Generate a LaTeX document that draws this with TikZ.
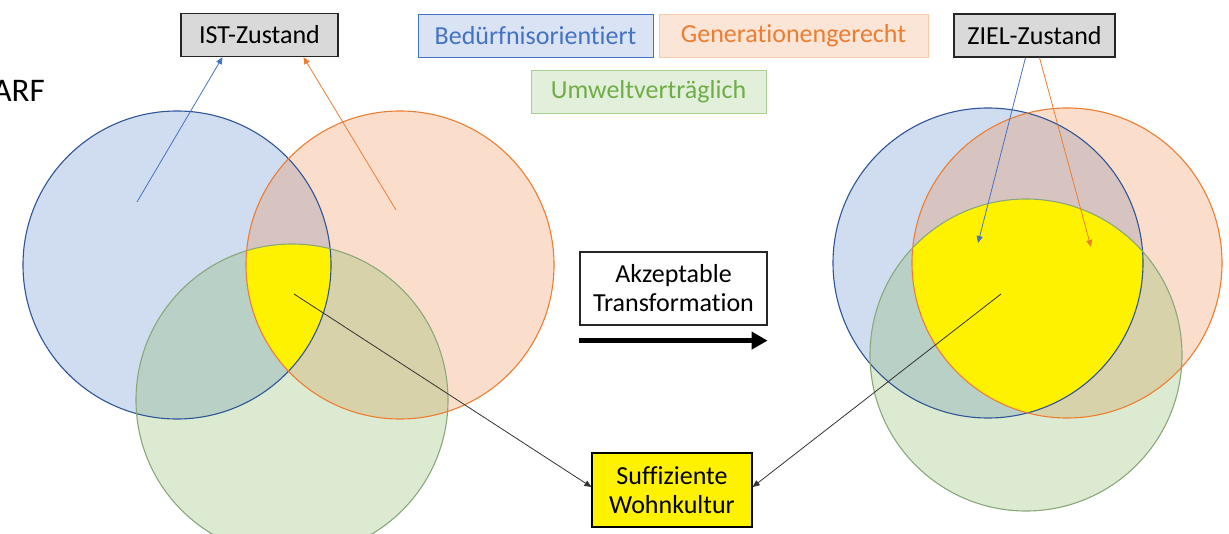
\documentclass[tikz,border=0pt]{standalone}
\usepackage{fontspec}
\setmainfont{Carlito}[Ligatures=NoCommon]
\usetikzlibrary{arrows.meta}
\definecolor{accblue}{HTML}{4472C4}
\definecolor{accorange}{HTML}{ED7D31}
\definecolor{accgreen}{HTML}{70AD47}
\definecolor{blueline}{HTML}{2F5597}
\definecolor{greenline}{HTML}{8BA87A}
\definecolor{boxgray}{HTML}{D9D9D9}
\definecolor{boxline}{HTML}{262626}
\begin{document}
\begin{tikzpicture}[x=1pt,y=-1pt,
    every node/.style={font=\fontsize{26}{29}\selectfont},
    zbox/.style={draw=boxline, fill=boxgray, line width=1.3pt, minimum height=43pt, inner sep=0pt},
    critbox/.style={line width=0.9pt, minimum height=43pt, inner sep=0pt},
    ptr/.style={-{Triangle[length=7pt,width=6pt]}, line width=0.8pt}]
  \useasboundingbox (0,0) rectangle (1229,534);
  \coordinate (bl) at (177,265);
  \coordinate (ol) at (400,265);
  \coordinate (gl) at (292,400);
  \coordinate (br) at (988,263);
  \coordinate (or) at (1067,263);
  \coordinate (gr) at (1026,355);
  \draw
    (45,102) node[anchor=base east, inner sep=0pt, font=\fontsize{33}{40}\selectfont] (arf){ARF}
    (259.5,35) node[zbox, minimum width=157pt] (ist){IST-Zustand}
    (1034.5,35.5) node[zbox, minimum width=161pt] (ziel){ZIEL-Zustand}
    (535.5,35.5) node[critbox, draw=accblue, fill=accblue!20, text=accblue, minimum width=235pt] (beduerf){Bedürfnisorientiert}
    (793.5,35.5) node[critbox, draw=accorange!40, fill=accorange!20, text=accorange, minimum width=269pt] (generat){Generationengerecht}
    (648.5,91.5) node[critbox, draw=accgreen!60, fill=accgreen!20, text=accgreen, minimum width=235pt] (umwelt){Umweltverträglich}
    (673.5,288.5) node[draw=boxline, line width=1.2pt, fill=white, minimum width=187pt, minimum height=73pt, align=center, inner sep=0pt] (akz){Akzeptable\\Transformation}
    (672,490) node[draw=black, line width=1.2pt, fill=yellow, minimum width=160pt, minimum height=74pt, align=center, inner sep=0pt] (suff){Suffiziente\\Wohnkultur};
  \begin{scope}[fill opacity=.25]
    \fill[accblue] (bl) circle[radius=154];
    \fill[accorange] (ol) circle[radius=154];
    \fill[accgreen] (gl) circle[radius=156];
    \fill[accblue] (br) circle[radius=155];
    \fill[accorange] (or) circle[radius=155];
    \fill[accgreen] (gr) circle[radius=156];
  \end{scope}
  \begin{scope}
    \clip (bl) circle[radius=154];
    \clip (ol) circle[radius=154];
    \fill[yellow] (gl) circle[radius=156];
  \end{scope}
  \begin{scope}
    \clip (br) circle[radius=155];
    \clip (or) circle[radius=155];
    \fill[yellow] (gr) circle[radius=156];
  \end{scope}
  \begin{scope}[line width=1.1pt]
    \draw[blueline] (bl) circle[radius=154];
    \draw[accorange] (ol) circle[radius=154];
    \draw[greenline] (gl) circle[radius=156];
    \draw[blueline] (br) circle[radius=155];
    \draw[accorange] (or) circle[radius=155];
    \draw[greenline] (gr) circle[radius=156];
  \end{scope}
  \coordinate (istblue) at (137,202);
  \coordinate (istorange) at (396,210);
  \coordinate (zielblue) at (978,243);
  \coordinate (zielorange) at (1091,247);
  \coordinate (suffl) at (294,294);
  \coordinate (suffr) at (1001,294);
  \begin{scope}[ptr]
    \draw[accblue] (istblue) to ([xshift=-37pt]ist.south);
    \draw[accorange] (istorange) to ([xshift=44pt]ist.south);
    \draw[accblue] ([xshift=-9pt]ziel.south) to (zielblue);
    \draw[accorange] ([xshift=5pt]ziel.south) to (zielorange);
    \draw[black!80] (suffl) to ([yshift=3pt]suff.west);
    \draw[black!80] (suffr) to ([yshift=3pt]suff.east);
  \end{scope}
  \draw[line width=5pt, -{Triangle[length=16pt,width=17pt]}] ([yshift=-15pt]akz.south west) -- ([yshift=-15pt]akz.south east);
\end{tikzpicture}
\end{document}
